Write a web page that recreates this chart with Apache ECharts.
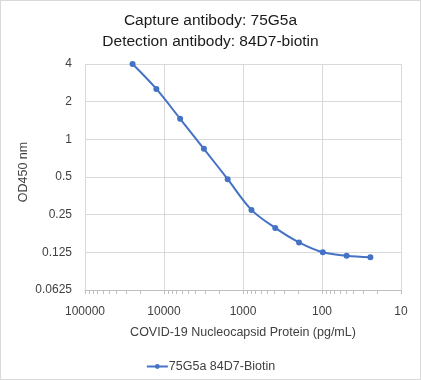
<!DOCTYPE html>
<html>
<head>
<meta charset="utf-8">
<script src="https://cdn.jsdelivr.net/npm/echarts@6/dist/echarts.min.js"></script>
<style>
html,body{margin:0;padding:0;background:#fff;}
#chart{width:421px;height:380px;box-sizing:border-box;border:1px solid #d9d9d9;}
</style>
</head>
<body>
<div id="chart"></div>
<script>
var titleLines = ['Capture antibody: 75G5a', 'Detection antibody: 84D7-biotin'];
var seriesName = '75G5a 84D7-Biotin';
var concentrations = [25000, 12500, 6250, 3125, 1562.5, 781.25, 390.625, 195.3125, 97.65625, 48.828125, 24.4140625];
var odValues = [4.0, 2.53, 1.46, 0.84, 0.48, 0.273, 0.196, 0.150, 0.125, 0.1175, 0.114];
var xAxisName = 'COVID-19 Nucleocapsid Protein (pg/mL)';
var yAxisName = 'OD450 nm';
var xMin = 10, xMax = 100000;
var yMin = 0.0625, yMax = 4;
var decades = [10, 100, 1000, 10000];
var minorMultipliers = [2, 3, 4, 5, 6, 7, 8, 9];

var minorTickValues = [];
decades.forEach(function (d) {
  minorMultipliers.forEach(function (m) { minorTickValues.push([d * m, yMin]); });
});
var majorTickValues = [10, 100, 1000, 10000, 100000].map(function (v) { return [v, yMin]; });

var font = 'Liberation Sans, Arial, sans-serif';
var lineColor = '#4472C4';
var textColor = '#404040';
var gridColor = '#d9d9d9';

var chart = echarts.init(document.getElementById('chart'), null, {renderer: 'canvas'});

var data = concentrations.map(function (c, i) { return [c, odValues[i]]; });

chart.setOption({
  animation: false,
  backgroundColor: '#fff',
  title: {
    text: titleLines.join('\n'),
    left: 'center',
    top: 4,
    textStyle: {fontFamily: font, fontSize: 15.5, fontWeight: 'normal', color: '#1a1a1a', lineHeight: 21}
  },
  legend: {
    data: [seriesName],
    left: 'center',
    top: 354,
    itemWidth: 21,
    itemHeight: 6,
    itemGap: 10,
    textStyle: {fontFamily: font, fontSize: 12.5, color: textColor, padding: [0, 0, 0, -4]}
  },
  grid: {left: 84, right: 19, top: 63, bottom: 89, containLabel: false},
  xAxis: {
    type: 'log',
    logBase: 10,
    inverse: true,
    min: xMin,
    max: xMax,
    name: xAxisName,
    nameLocation: 'middle',
    nameGap: 36,
    nameTextStyle: {fontFamily: font, fontSize: 12.5, color: textColor},
    axisLine: {show: true, lineStyle: {color: '#bfbfbf', width: 1}},
    axisTick: {show: false},
    axisLabel: {fontFamily: font, fontSize: 12, color: textColor, margin: 16,
      formatter: function (v) { return String(Math.round(v)); }},
    splitLine: {show: true, lineStyle: {color: gridColor, width: 1}}
  },
  yAxis: {
    type: 'log',
    logBase: 2,
    min: yMin,
    max: yMax,
    splitNumber: 6,
    name: yAxisName,
    nameLocation: 'middle',
    nameGap: 55,
    nameMoveOverlap: false,
    nameTextStyle: {fontFamily: font, fontSize: 12.5, color: textColor, padding: [0, 0, 0, 10]},
    axisLine: {show: false},
    axisTick: {show: false},
    axisLabel: {fontFamily: font, fontSize: 12, color: textColor, margin: 13,
      formatter: function (v) { return String(parseFloat(v.toPrecision(6))); }},
    splitLine: {show: true, lineStyle: {color: gridColor, width: 1}}
  },
  series: [
    {
      name: seriesName,
      type: 'line',
      data: data,
      smooth: 0.35,
      symbol: 'circle',
      symbolSize: 6,
      clip: false,
      lineStyle: {color: lineColor, width: 2},
      itemStyle: {color: lineColor},
      z: 5
    },
    {
      name: 'ticks',
      type: 'custom',
      silent: true,
      clip: false,
      data: minorTickValues.concat(majorTickValues),
      renderItem: function (params, api) {
        var p = api.coord([api.value(0), api.value(1)]);
        return {
          type: 'line',
          shape: {x1: Math.round(p[0]) + 0.5, y1: p[1], x2: Math.round(p[0]) + 0.5, y2: p[1] + 4},
          style: {stroke: '#bfbfbf', lineWidth: 1}
        };
      },
      z: 1
    }
  ]
});
</script>
</body>
</html>
